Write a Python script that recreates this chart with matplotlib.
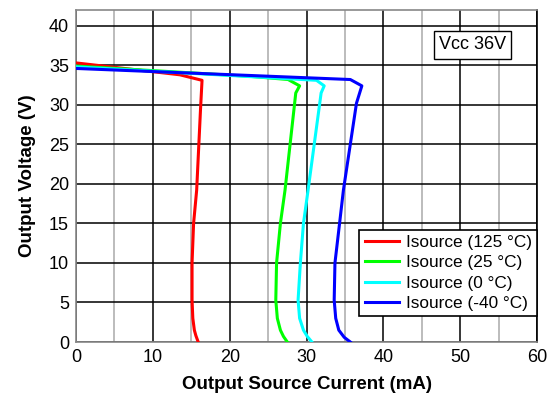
import matplotlib.pyplot as plt
from matplotlib.ticker import MultipleLocator

plt.rcParams['font.family'] = ['Liberation Sans', 'DejaVu Sans']

# curves (current mA, voltage V)
i_125 = [0, 13.5, 16.4, 16.2, 15.7, 15.3, 15.1, 15.1, 15.2, 15.4, 15.6, 15.9]
v_125 = [35.3, 33.8, 33.1, 29.4, 19.2, 15.0, 10.0, 5.3, 3.0, 1.5, 0.8, 0]

i_25 = [0, 22.7, 27.6, 29.1, 28.6, 27.2, 26.6, 26.1, 26.0, 26.2, 26.6, 27.0, 27.5]
v_25 = [34.9, 33.6, 33.2, 32.4, 31.5, 19.2, 15.0, 10.0, 5.3, 3.0, 1.5, 0.7, 0]

i_0 = [0, 31.3, 32.3, 31.9, 30.2, 29.6, 29.2, 28.9, 29.1, 29.6, 30.1, 30.7]
v_0 = [34.8, 33.1, 32.4, 31.5, 19.2, 15.0, 10.0, 5.3, 3.0, 1.5, 0.7, 0]

i_m40 = [0, 35.7, 37.2, 36.5, 34.8, 34.3, 33.7, 33.6, 33.8, 34.2, 34.9, 35.7]
v_m40 = [34.6, 33.2, 32.4, 30.2, 19.2, 15.0, 10.0, 5.3, 3.0, 1.5, 0.6, 0]

series = [
    (i_125, v_125, '#ff0000', 'Isource (125 °C)'),
    (i_25, v_25, '#00ff00', 'Isource (25 °C)'),
    (i_0, v_0, '#00ffff', 'Isource (0 °C)'),
    (i_m40, v_m40, '#0000ff', 'Isource (-40 °C)'),
]

fig = plt.figure(figsize=(5.55, 3.98), dpi=100)
ax = fig.add_axes([0.137, 0.1407, 0.8306, 0.8343])

for x, y, c, lab in series:
    ax.plot(x, y, color=c, linewidth=2.2, label=lab, zorder=3)

ax.set_xlim(0, 60)
ax.set_ylim(0, 42)
ax.xaxis.set_major_locator(MultipleLocator(10))
ax.xaxis.set_minor_locator(MultipleLocator(5))
ax.set_yticks([0, 5, 10, 15, 20, 25, 30, 35, 40])

ax.grid(True, which='major', color='black', linewidth=1.1, zorder=1)
ax.grid(True, which='minor', axis='x', color='#aaaaaa', linewidth=1.1, zorder=1)
ax.tick_params(which='both', length=0, labelsize=13, pad=5)

for s in ax.spines.values():
    s.set_color('#888888')
    s.set_linewidth(1.2)
ax.spines['right'].set_color('black')

ax.set_xlabel('Output Source Current (mA)', fontsize=13.5, fontweight='bold', labelpad=7)
ax.set_ylabel('Output Voltage (V)', fontsize=13.5, fontweight='bold', labelpad=9)

ax.text(51.6, 37.6, 'Vcc 36V', fontsize=13, ha='center', va='center', zorder=5,
        bbox=dict(boxstyle='square,pad=0.3', facecolor='white', edgecolor='black', linewidth=1))

leg = ax.legend(loc='lower right', bbox_to_anchor=(1.0, 0.078), borderaxespad=0,
                fontsize=12.4, fancybox=False, framealpha=1, edgecolor='black',
                handlelength=2.0, handletextpad=0.4, labelspacing=0.3,
                borderpad=0.3)
leg.get_frame().set_linewidth(1.2)

plt.savefig('out.png', dpi=100)
